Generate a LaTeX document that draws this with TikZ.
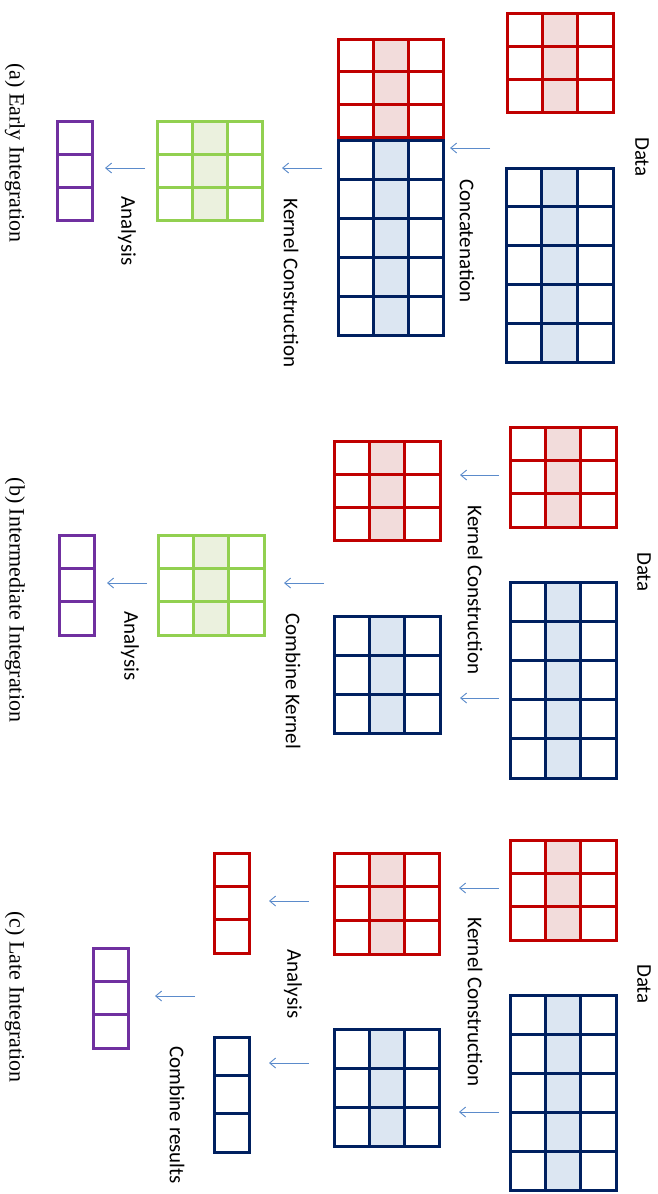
\documentclass[tikz,border=0pt]{standalone}
\usepackage{fontspec}
\newfontfamily\labelfont{Carlito}
\newfontfamily\captfont{Liberation Serif}
\usetikzlibrary{arrows.meta}
\definecolor{gred}{HTML}{C00000}
\definecolor{gpink}{HTML}{F2DCDB}
\definecolor{gnavy}{HTML}{002060}
\definecolor{glblue}{HTML}{DCE6F2}
\definecolor{ggreen}{HTML}{92D050}
\definecolor{glgreen}{HTML}{EBF1DE}
\definecolor{gpurple}{HTML}{7030A0}
\definecolor{garrow}{HTML}{5B8BCB}
\newcommand\mgrid[8]{%
  \pgfmathsetmacro\mgdx{(#3-#1)/#5}%
  \pgfmathsetmacro\mgdy{(#4-#2)/#6}%
  \pgfmathtruncatemacro\mgr{#6-1}%
  \ifnum#5=3 \fill[#8] ({#1+\mgdx},#2) rectangle ({#1+2*\mgdx},#4);\fi
  \draw[gl,draw=#7] (#1,#2) rectangle (#3,#4);
  \foreach \mgj in {1,...,\mgr}{\draw[gl,draw=#7] (#1,{#2+\mgj*\mgdy}) -- (#3,{#2+\mgj*\mgdy});}
  \ifnum#5=3 \draw[gl,draw=#7] ({#1+\mgdx},#2) -- ({#1+\mgdx},#4);
    \draw[gl,draw=#7] ({#1+2*\mgdx},#2) -- ({#1+2*\mgdx},#4);\fi
}
\begin{document}
\begin{tikzpicture}[x=1pt,y=-1pt,
  gl/.style={line width=3pt,line cap=rect},
  flow/.style={draw=garrow,line width=0.9pt,-{Straight Barb[length=6pt,width=10pt]}},
  lbl/.style={font=\labelfont\fontsize{21}{24}\selectfont,rotate=-90,inner sep=0pt,text=black},
  capt/.style={font=\captfont\fontsize{22}{26}\selectfont,rotate=-90,inner sep=0pt,text=black}]
\useasboundingbox (0,0) rectangle (657,1194);
\fill[white] (0,0) rectangle (657,1194);
% ---------- (a) Early integration
\mgrid{507}{13}{613}{112}{3}{3}{gred}{gpink}
\mgrid{506}{168}{613}{362}{3}{5}{gnavy}{glblue}
\mgrid{338}{39}{443}{137}{3}{3}{gred}{gpink}
\mgrid{338}{140}{443}{335}{3}{5}{gnavy}{glblue}
\mgrid{157}{121}{262}{220}{3}{3}{ggreen}{glgreen}
\mgrid{57}{121}{92}{220}{1}{3}{gpurple}{none}
\node[lbl] (dataA) at (642,157) {Data};
\node[lbl] (concA) at (467,241) {Concatenation};
\node[lbl] (kcA) at (291,283) {Kernel Construction};
\node[lbl] (anA) at (127,231) {Analysis};
\node[capt] (capA) at (15,153) {(a) Early Integration};
\coordinate (a1s) at (490,148); \coordinate (a1e) at (450,148);
\coordinate (a2s) at (322,168); \coordinate (a2e) at (282,168);
\coordinate (a3s) at (145,168); \coordinate (a3e) at (105,168);
\draw[flow] (a1s) -- (a1e);
\draw[flow] (a2s) -- (a2e);
\draw[flow] (a3s) -- (a3e);
% ---------- (b) Intermediate integration
\mgrid{510}{427}{616}{527}{3}{3}{gred}{gpink}
\mgrid{510}{582}{616}{778}{3}{5}{gnavy}{glblue}
\mgrid{334}{441}{440}{540}{3}{3}{gred}{gpink}
\mgrid{334}{616}{440}{733}{3}{3}{gnavy}{glblue}
\mgrid{158}{535}{264}{635}{3}{3}{ggreen}{glgreen}
\mgrid{59}{535}{94}{635}{1}{3}{gpurple}{none}
\node[lbl] (dataB) at (644,572) {Data};
\node[lbl] (kcB) at (475,590) {Kernel Construction};
\node[lbl] (ckB) at (293,681) {Combine Kernel};
\node[lbl] (anB) at (130,646) {Analysis};
\node[capt] (capB) at (15,600) {(b) Intermediate Integration};
\coordinate (b1s) at (499,475); \coordinate (b1e) at (460,475);
\coordinate (b2s) at (499,698); \coordinate (b2e) at (460,698);
\coordinate (b3s) at (324,583); \coordinate (b3e) at (284,583);
\coordinate (b4s) at (147,583); \coordinate (b4e) at (107,583);
\draw[flow] (b1s) -- (b1e);
\draw[flow] (b2s) -- (b2e);
\draw[flow] (b3s) -- (b3e);
\draw[flow] (b4s) -- (b4e);
% ---------- (c) Late integration
\mgrid{510}{840}{616}{940}{3}{3}{gred}{gpink}
\mgrid{510}{995}{616}{1190}{3}{5}{gnavy}{glblue}
\mgrid{334}{853}{439}{954}{3}{3}{gred}{gpink}
\mgrid{334}{1029}{439}{1146}{3}{3}{gnavy}{glblue}
\mgrid{214}{853}{249}{953}{1}{3}{gred}{none}
\mgrid{214}{1037}{249}{1152}{1}{3}{gnavy}{none}
\mgrid{93}{948}{128}{1048}{1}{3}{gpurple}{none}
\node[lbl] (dataC) at (644,984) {Data};
\node[lbl] (kcC) at (475,1002) {Kernel Construction};
\node[lbl] (anC) at (293,984) {Analysis};
\node[lbl] (crC) at (177,1115) {Combine results};
\node[capt] (capC) at (15,997) {(c) Late Integration};
\coordinate (c1s) at (499,888); \coordinate (c1e) at (459,888);
\coordinate (c2s) at (499,1112); \coordinate (c2e) at (459,1112);
\coordinate (c3s) at (309,901); \coordinate (c3e) at (269,901);
\coordinate (c4s) at (309,1063); \coordinate (c4e) at (269,1063);
\coordinate (c5s) at (195,996); \coordinate (c5e) at (155,996);
\draw[flow] (c1s) -- (c1e);
\draw[flow] (c2s) -- (c2e);
\draw[flow] (c3s) -- (c3e);
\draw[flow] (c4s) -- (c4e);
\draw[flow] (c5s) -- (c5e);
\end{tikzpicture}
\end{document}
